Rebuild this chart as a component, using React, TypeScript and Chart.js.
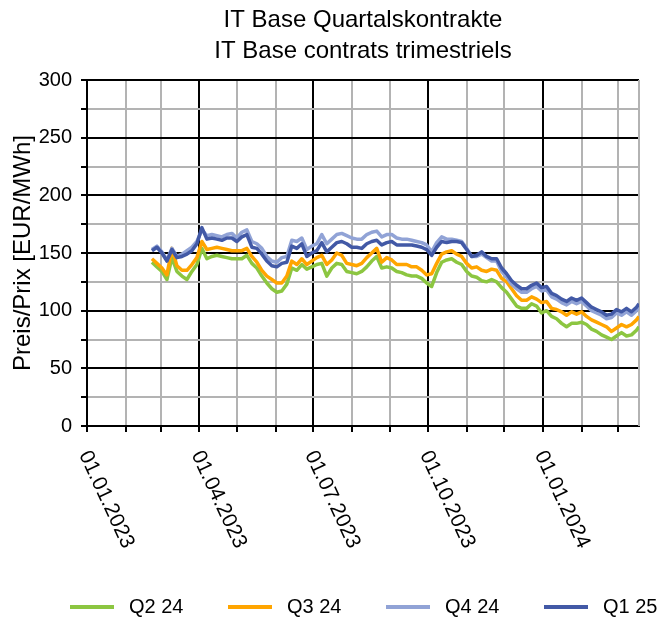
import React, { useEffect, useRef } from "react";
import Chart from "chart.js/auto";

const FONT = '"Liberation Sans", Arial, Helvetica, sans-serif';
const GRAY = "#b3b3b3";
const BLACK = "#000000";

// ---- Data -----------------------------------------------------------------
const titleLines = ["IT Base Quartalskontrakte", "IT Base contrats trimestriels"];
const yAxisTitle = "Preis/Prix [EUR/MWh]";

const xMinDate = "01.01.2023";
const xMaxDate = "18.03.2024";

const monthStarts = [
  "01.01.2023", "01.02.2023", "01.03.2023", "01.04.2023", "01.05.2023", "01.06.2023",
  "01.07.2023", "01.08.2023", "01.09.2023", "01.10.2023", "01.11.2023", "01.12.2023",
  "01.01.2024", "01.02.2024", "01.03.2024",
];
const xTickLabels = ["01.01.2023", "01.04.2023", "01.07.2023", "01.10.2023", "01.01.2024"];

const yTicksMajor = [0, 50, 100, 150, 200, 250, 300];

const dates = [
  "22.02.2023", "26.02.2023", "02.03.2023", "06.03.2023", "10.03.2023", "14.03.2023", "18.03.2023", "22.03.2023", "26.03.2023", "30.03.2023",
  "03.04.2023", "07.04.2023", "11.04.2023", "15.04.2023", "19.04.2023", "23.04.2023", "27.04.2023",
  "01.05.2023", "05.05.2023", "09.05.2023", "13.05.2023", "17.05.2023", "21.05.2023", "25.05.2023", "29.05.2023",
  "02.06.2023", "06.06.2023", "10.06.2023", "14.06.2023", "18.06.2023", "22.06.2023", "26.06.2023", "30.06.2023",
  "04.07.2023", "08.07.2023", "12.07.2023", "16.07.2023", "20.07.2023", "24.07.2023", "28.07.2023",
  "01.08.2023", "05.08.2023", "09.08.2023", "13.08.2023", "17.08.2023", "21.08.2023", "25.08.2023", "29.08.2023",
  "02.09.2023", "06.09.2023", "10.09.2023", "14.09.2023", "18.09.2023", "22.09.2023", "26.09.2023", "30.09.2023",
  "04.10.2023", "08.10.2023", "12.10.2023", "16.10.2023", "20.10.2023", "24.10.2023", "28.10.2023",
  "01.11.2023", "05.11.2023", "09.11.2023", "13.11.2023", "17.11.2023", "21.11.2023", "25.11.2023", "29.11.2023",
  "03.12.2023", "07.12.2023", "11.12.2023", "15.12.2023", "19.12.2023", "23.12.2023", "27.12.2023", "31.12.2023",
  "04.01.2024", "08.01.2024", "12.01.2024", "16.01.2024", "20.01.2024", "24.01.2024", "28.01.2024",
  "01.02.2024", "05.02.2024", "09.02.2024", "13.02.2024", "17.02.2024", "21.02.2024", "25.02.2024", "29.02.2024",
  "04.03.2024", "08.03.2024", "12.03.2024", "16.03.2024", "18.03.2024",
];

const q2_24 = [
  142, 138, 134, 127, 146, 134, 130, 127, 134, 140,
  154, 145, 147, 148, 147, 146, 145,
  145, 145, 148, 141, 137, 130, 124, 119,
  116, 117, 123, 137, 135, 140, 136, 138,
  140, 141, 130, 137, 141, 140, 134,
  133, 132, 134, 138, 143, 147, 137, 138,
  137, 134, 133, 131, 130, 130, 128, 124,
  121, 133, 142, 144, 145, 142, 140,
  134, 130, 129, 126, 125, 127, 125, 120,
  116, 110, 104, 102, 102, 106, 104, 98,
  100, 95, 93, 89, 86, 89, 89,
  90, 88, 84, 82, 79, 77, 75, 78,
  81, 78, 79, 83, 86,
];

const q3_24 = [
  145, 141, 137, 131, 154, 139, 135, 135, 140, 146,
  160, 153, 154, 155, 154, 153, 152,
  152, 152, 154, 147, 142, 135, 130, 127,
  124, 124, 130, 143, 140, 145, 140, 143,
  146, 148, 140, 144, 150, 148, 141,
  140, 139, 141, 146, 150, 154, 142, 146,
  144, 140, 140, 140, 138, 138, 135, 131,
  132, 141, 149, 151, 152, 149, 147,
  141, 137, 138, 135, 134, 136, 135, 128,
  125, 119, 113, 109, 109, 112, 110, 107,
  108, 102, 101, 99, 96, 99, 97,
  99, 95, 92, 90, 88, 86, 82, 85,
  88, 86, 88, 92, 95,
];

const q4_24 = [
  153, 156, 151, 144, 154, 147, 149, 152, 155, 160,
  170, 165, 166, 165, 164, 166, 167,
  163, 168, 170, 160, 158, 154, 147, 143,
  142, 146, 147, 161, 160, 163, 153, 156,
  158, 166, 158, 162, 166, 167, 165,
  163, 162, 162, 166, 168, 169, 164, 166,
  166, 163, 162, 162, 161, 160, 159, 157,
  151, 159, 164, 162, 162, 161, 160,
  154, 147, 147, 149, 146, 143, 143, 134,
  129, 123, 119, 116, 116, 119, 121, 117,
  118, 112, 110, 107, 105, 108, 106,
  108, 104, 100, 98, 96, 93, 94, 98,
  96, 99, 96, 100, 103,
];

const q1_25 = [
  152, 155, 150, 143, 153, 146, 147, 149, 152, 158,
  172, 162, 163, 162, 161, 163, 163,
  160, 164, 166, 155, 154, 149, 143, 139,
  138, 141, 142, 156, 154, 158, 147, 150,
  152, 159, 151, 155, 159, 160, 158,
  155, 155, 154, 158, 160, 161, 157, 159,
  160, 157, 157, 157, 157, 156, 155, 153,
  148, 155, 160, 159, 160, 160, 159,
  153, 147, 148, 151, 147, 145, 145, 137,
  132, 126, 122, 119, 119, 122, 124, 120,
  121, 115, 113, 110, 108, 111, 109,
  111, 107, 103, 101, 99, 96, 97, 101,
  99, 102, 99, 103, 106,
];

const seriesLabels = ["Q2 24", "Q3 24", "Q4 24", "Q1 25"];
const seriesColors = ["#8cc641", "#ffa500", "#91a3d6", "#4259a6"];
const seriesValues = [q2_24, q3_24, q4_24, q1_25];
const seriesOrder = [3, 2, 1, 0];

// ---- Helpers --------------------------------------------------------------
function toDay(s: string): number {
  const [d, m, y] = s.split(".").map(Number);
  return Math.round((Date.UTC(y, m - 1, d) - Date.UTC(2023, 0, 1)) / 86400000);
}
const quarterDays = xTickLabels.map(toDay);

const customPlugin = {
  id: "customDecor",
  beforeDatasetsDraw(chart: any) {
    const { ctx, chartArea } = chart;
    ctx.save();
    ctx.strokeStyle = GRAY;
    ctx.lineWidth = 2;
    ctx.beginPath();
    ctx.moveTo(chartArea.right, chartArea.top);
    ctx.lineTo(chartArea.right, chartArea.bottom);
    ctx.stroke();
    ctx.restore();
  },
  afterDraw(chart: any) {
    const { ctx, chartArea } = chart;
    const xs = chart.scales.x;
    ctx.save();
    // rotated x labels (clockwise, reading downwards)
    ctx.font = `21px ${FONT}`;
    ctx.fillStyle = BLACK;
    ctx.textAlign = "left";
    ctx.textBaseline = "middle";
    xTickLabels.forEach((lbl) => {
      const px = xs.getPixelForValue(toDay(lbl));
      ctx.save();
      ctx.translate(px - 3, chartArea.bottom + 26);
      ctx.rotate((65 * Math.PI) / 180);
      ctx.fillText(lbl, 0, 0);
      ctx.restore();
    });
    // legend
    const ly = chart.height - 16;
    ctx.font = `20px ${FONT}`;
    chart.data.datasets.forEach((ds: any, i: number) => {
      const x0 = chartArea.left - 17 + i * 158;
      ctx.strokeStyle = ds.borderColor;
      ctx.lineWidth = 4;
      ctx.beginPath();
      ctx.moveTo(x0, ly);
      ctx.lineTo(x0 + 44, ly);
      ctx.stroke();
      ctx.fillStyle = BLACK;
      ctx.fillText(ds.label, x0 + 59, ly);
    });
    ctx.restore();
  },
};

export default function App() {
  const ref = useRef<HTMLCanvasElement>(null);
  useEffect(() => {
    document.body.style.margin = "0";
    const days = dates.map(toDay);
    const datasets = seriesLabels.map((label, i) => ({
      label,
      data: seriesValues[i].map((v, j) => ({ x: days[j], y: v })),
      borderColor: seriesColors[i],
      backgroundColor: seriesColors[i],
      borderWidth: 3.5,
      pointRadius: 0,
      tension: 0,
      order: seriesOrder[i],
      borderJoinStyle: "round" as const,
    }));
    const chart = new Chart(ref.current!, {
      type: "line",
      data: { datasets },
      plugins: [customPlugin],
      options: {
        animation: false,
        responsive: false,
        devicePixelRatio: 1,
        events: [],
        layout: { padding: { left: 0, right: 21, top: 0, bottom: 191 } },
        font: { family: FONT },
        plugins: {
          legend: { display: false },
          tooltip: { enabled: false },
          title: {
            display: true,
            text: titleLines,
            color: BLACK,
            fullSize: false,
            font: { family: FONT, size: 24, weight: "normal", lineHeight: 31 / 24 },
            padding: { top: 5, bottom: 13 },
          },
        },
        scales: {
          x: {
            type: "linear",
            min: toDay(xMinDate),
            max: toDay(xMaxDate),
            afterBuildTicks: (scale: any) => {
              scale.ticks = monthStarts.map((d) => ({ value: toDay(d) }));
            },
            ticks: { display: false },
            grid: {
              color: (c: any) => (c.tick && quarterDays.includes(c.tick.value) ? BLACK : GRAY),
              lineWidth: 2,
              drawTicks: true,
              tickLength: 6,
              tickColor: BLACK,
              tickWidth: 2,
            },
            border: { display: true, color: BLACK, width: 2 },
          },
          y: {
            type: "linear",
            min: 0,
            max: 300,
            afterFit: (scale: any) => {
              scale.width = 87;
            },
            ticks: {
              stepSize: 25,
              autoSkip: false,
              padding: 9,
              color: BLACK,
              font: { family: FONT, size: 20 },
              callback: (v: any) => (yTicksMajor.includes(Number(v)) ? String(v) : ""),
            },
            grid: {
              color: (c: any) => (c.tick && yTicksMajor.includes(c.tick.value) ? BLACK : GRAY),
              lineWidth: 2,
              drawTicks: true,
              tickLength: 6,
              tickColor: BLACK,
              tickWidth: 2,
            },
            border: { display: true, color: BLACK, width: 2 },
            title: {
              display: true,
              text: yAxisTitle,
              color: BLACK,
              font: { family: FONT, size: 24, lineHeight: 1.2 },
              padding: { top: 9, bottom: 0 },
            },
          },
        },
      } as any,
    });
    return () => chart.destroy();
  }, []);
  return (
    <div style={{ width: 660, height: 623 }}>
      <canvas ref={ref} width={660} height={623} style={{ display: "block" }} />
    </div>
  );
}
